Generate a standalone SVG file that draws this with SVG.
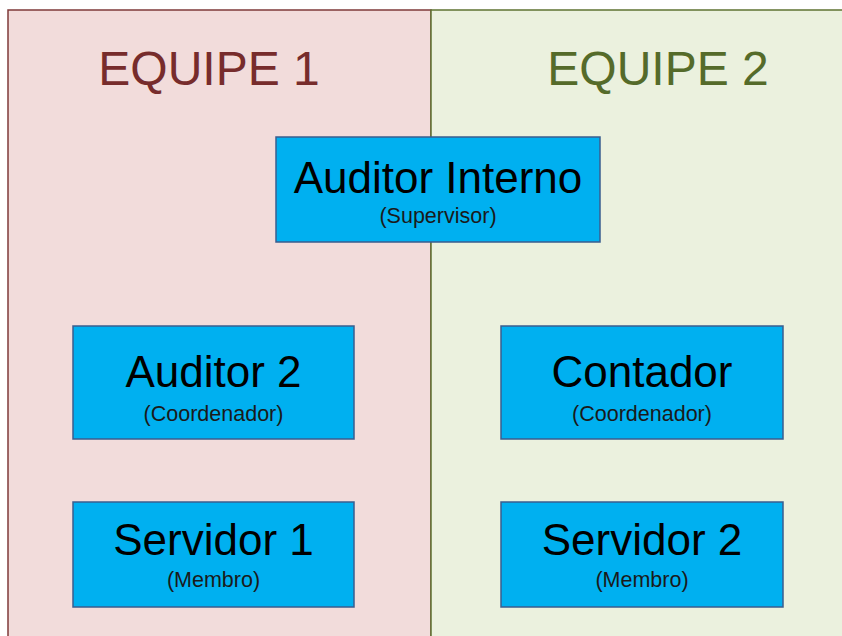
<svg xmlns="http://www.w3.org/2000/svg" width="842" height="636" viewBox="0 0 842 636">
<style>
.box{fill:#00b0f0;stroke:#3a5d8f;stroke-width:1.5}
.t{font-family:"Liberation Sans",Arial,sans-serif;text-anchor:middle;fill:#000}
.big{font-size:44px}
.small{font-size:21.5px;fill:#1a1a1a}
.hdr{font-family:"Liberation Sans",Arial,sans-serif;text-anchor:middle;font-size:48px}
</style>
<rect width="842" height="636" fill="#ffffff"/>
<g id="equipe1">
<rect x="8" y="10" width="423" height="640" fill="#f2dcdb" stroke="#7f3a3a" stroke-width="1.5"/>
<text class="hdr" x="209" y="85" fill="#772c2c">EQUIPE 1</text>
</g>
<g id="equipe2">
<rect x="431" y="10" width="430" height="640" fill="#ebf1de" stroke="#5f7332" stroke-width="1.5"/>
<text class="hdr" x="658" y="85" fill="#556b2a">EQUIPE 2</text>
</g>
<g id="connectors"></g>
<g id="auditor-interno">
<rect class="box" x="276" y="137" width="324" height="105"/>
<text class="t big" x="438" y="193">Auditor Interno</text>
<text class="t small" x="438" y="223">(Supervisor)</text>
</g>
<g id="auditor2">
<rect class="box" x="73" y="326" width="281" height="113"/>
<text class="t big" x="213.5" y="387">Auditor 2</text>
<text class="t small" x="213.5" y="421">(Coordenador)</text>
</g>
<g id="contador">
<rect class="box" x="501" y="326" width="282" height="113"/>
<text class="t big" x="642" y="387">Contador</text>
<text class="t small" x="642" y="421">(Coordenador)</text>
</g>
<g id="servidor1">
<rect class="box" x="73" y="502" width="281" height="105"/>
<text class="t big" x="213.5" y="555">Servidor 1</text>
<text class="t small" x="213.5" y="587">(Membro)</text>
</g>
<g id="servidor2">
<rect class="box" x="501" y="502" width="282" height="105"/>
<text class="t big" x="642" y="555">Servidor 2</text>
<text class="t small" x="642" y="587">(Membro)</text>
</g>
</svg>
